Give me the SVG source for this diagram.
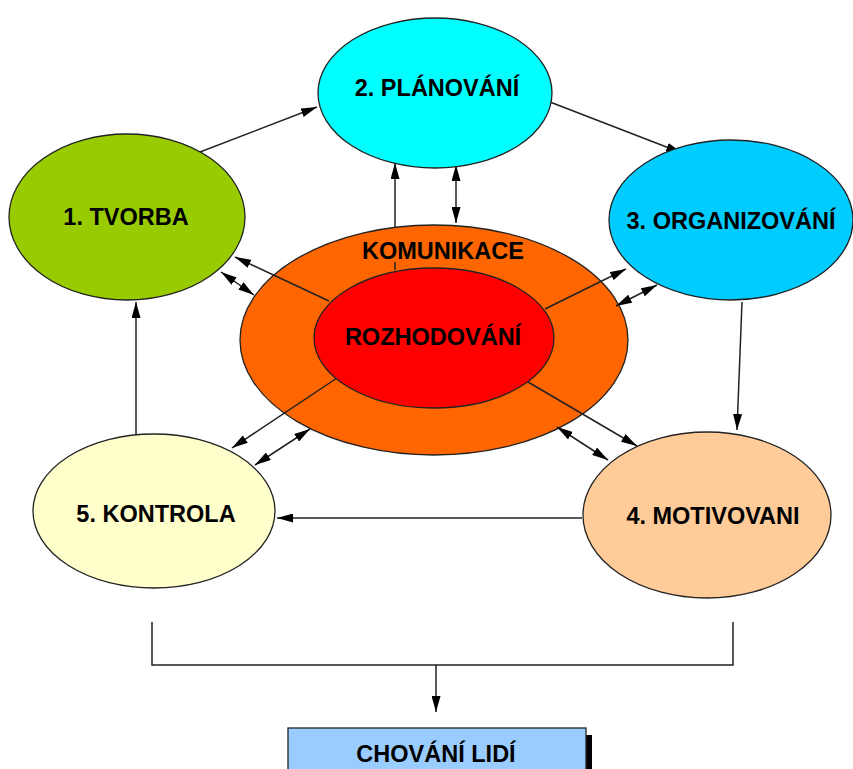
<svg xmlns="http://www.w3.org/2000/svg" width="853" height="769" viewBox="0 0 853 769">
  <style>
    .node { stroke: #222; stroke-width: 1.3; }
    .lbl { font-family: "Liberation Sans", Arial, sans-serif; font-weight: bold; font-size: 23.5px; fill: #000; text-anchor: middle; dominant-baseline: central; }
    .ln { stroke: #222; stroke-width: 1.5; fill: none; }
    .one { marker-end: url(#ah); }
    .two { marker-start: url(#ahs); marker-end: url(#ah); }
  </style>
  <defs>
    <marker id="ah" viewBox="0 0 16 9" refX="16" refY="4.5" markerWidth="16" markerHeight="9" markerUnits="userSpaceOnUse" orient="auto">
      <path d="M0,0 L16,4.5 L0,9 Z" fill="#000"/>
    </marker>
    <marker id="ahs" viewBox="0 0 16 9" refX="0" refY="4.5" markerWidth="16" markerHeight="9" markerUnits="userSpaceOnUse" orient="auto">
      <path d="M16,0 L0,4.5 L16,9 Z" fill="#000"/>
    </marker>
  </defs>
  <rect width="853" height="769" fill="#fff"/>

  <!-- central pair: communication ring with decision core -->
  <g id="komunikace">
    <ellipse class="node" cx="434" cy="340" rx="194" ry="115" fill="#FF6600"/>
    <text class="lbl" x="443" y="251">KOMUNIKACE</text>
  </g>

  <g id="connectors">
    <!-- spokes from the core to each function -->
    <line class="ln one" x1="329" y1="301" x2="235" y2="257"/>
    <line class="ln" x1="395" y1="270" x2="395" y2="262"/>
    <line class="ln one" x1="395" y1="228" x2="395" y2="163"/>
    <line class="ln one" x1="545" y1="309" x2="626" y2="269"/>
    <line class="ln one" x1="337" y1="378" x2="232" y2="448"/>
    <line class="ln one" x1="528" y1="382" x2="637" y2="446"/>
    <!-- two-way links between the ring and each function -->
    <line class="ln two" x1="221" y1="272" x2="254" y2="295"/>
    <line class="ln two" x1="456" y1="165" x2="456" y2="223"/>
    <line class="ln two" x1="616" y1="306" x2="657" y2="285"/>
    <line class="ln two" x1="255" y1="465" x2="310" y2="429"/>
    <line class="ln two" x1="557" y1="427" x2="608" y2="460"/>
    <!-- cycle between the functions -->
    <line class="ln one" x1="187" y1="157" x2="317" y2="107"/>
    <line class="ln one" x1="550" y1="102" x2="682" y2="153"/>
    <line class="ln one" x1="742" y1="302" x2="737" y2="430"/>
    <line class="ln one" x1="582" y1="518" x2="277" y2="518"/>
    <line class="ln one" x1="136" y1="435" x2="136" y2="302"/>
    <!-- bracket to the outcome box -->
    <polyline class="ln" points="152,622 152,665 733,665 733,622"/>
    <line class="ln one" x1="436" y1="665" x2="436" y2="712"/>
  </g>

  <g id="rozhodovani">
    <ellipse class="node" cx="434" cy="338" rx="120" ry="70" fill="#FF0000"/>
    <text class="lbl" x="433" y="337">ROZHODOVÁNÍ</text>
  </g>

  <g id="tvorba">
    <ellipse class="node" cx="127" cy="217" rx="118" ry="83" fill="#99CC00"/>
    <text class="lbl" x="126" y="217">1. TVORBA</text>
  </g>

  <g id="planovani">
    <ellipse class="node" cx="435" cy="93" rx="117" ry="75" fill="#00FFFF"/>
    <text class="lbl" x="437" y="88">2. PLÁNOVÁNÍ</text>
  </g>

  <g id="organizovani">
    <ellipse class="node" cx="731" cy="220" rx="122" ry="80" fill="#00CCFF"/>
    <text class="lbl" x="731" y="221">3. ORGANIZOVÁNÍ</text>
  </g>

  <g id="motivovani">
    <ellipse class="node" cx="707" cy="515" rx="124" ry="83" fill="#FFCC99"/>
    <text class="lbl" x="713" y="516">4. MOTIVOVANI</text>
  </g>

  <g id="kontrola">
    <ellipse class="node" cx="154" cy="511" rx="121" ry="77" fill="#FFFFCC"/>
    <text class="lbl" x="156" y="514">5. KONTROLA</text>
  </g>

  <g id="chovani">
    <rect x="292" y="735" width="300" height="40" fill="#000"/>
    <rect x="288" y="728" width="298" height="50" fill="#99CCFF" stroke="#222" stroke-width="1.3"/>
    <text class="lbl" x="436" y="754">CHOVÁNÍ LIDÍ</text>
  </g>
</svg>
